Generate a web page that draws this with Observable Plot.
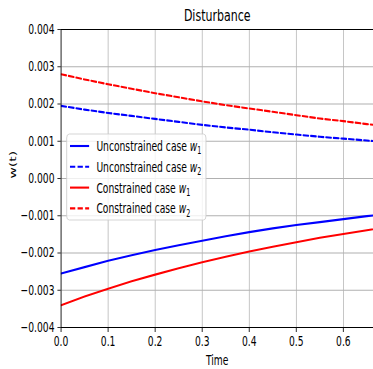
<!DOCTYPE html>
<html>
<head>
<meta charset="utf-8">
<script src="https://cdn.jsdelivr.net/npm/d3@7"></script>
<script src="https://cdn.jsdelivr.net/npm/@observablehq/plot@0.6"></script>
<style>
  html, body { margin: 0; padding: 0; background: #fff; }
</style>
</head>
<body>
<div id="chart"></div>
<script>
const time = [0, 0.05, 0.1, 0.15, 0.2, 0.25, 0.3, 0.35, 0.4, 0.45, 0.5, 0.55, 0.6, 0.65, 0.7];
const unconstrainedW1 = [-0.00255, -0.00238, -0.00221, -0.00206, -0.00192, -0.00179, -0.00167, -0.00155, -0.00144, -0.00134, -0.00125, -0.00117, -0.00109, -0.00101, -0.00094];
const unconstrainedW2 = [0.00195, 0.00185, 0.00176, 0.00168, 0.00160, 0.00152, 0.00144, 0.00137, 0.00131, 0.00124, 0.00118, 0.00112, 0.00107, 0.00102, 0.00097];
const constrainedW1 = [-0.00340, -0.00317, -0.00296, -0.00276, -0.00258, -0.00241, -0.00225, -0.00210, -0.00196, -0.00183, -0.00171, -0.00159, -0.00149, -0.00139, -0.00129];
const constrainedW2 = [0.00280, 0.00266, 0.00253, 0.00241, 0.00229, 0.00218, 0.00207, 0.00197, 0.00188, 0.00179, 0.00170, 0.00161, 0.00154, 0.00146, 0.00139];
const xTicks = [0, 0.1, 0.2, 0.3, 0.4, 0.5, 0.6];
const yTicks = [-0.004, -0.003, -0.002, -0.001, 0, 0.001, 0.002, 0.003, 0.004];
const legendLabels = ["Unconstrained case ", "Unconstrained case ", "Constrained case ", "Constrained case "];
const legendSubs = ["1", "2", "1", "2"];
const seriesColors = ["#0000ff", "#0000ff", "#ff0000", "#ff0000"];
const seriesDash = ["none", "8,3.5", "none", "8,3.5"];

const seriesValues = [unconstrainedW1, unconstrainedW2, constrainedW1, constrainedW2];
const tables = seriesValues.map(vals => time.map((t, i) => ({t, v: vals[i]})));

// The reference is horizontally squeezed: draw on a wider virtual canvas, then squeeze.
const OUT_W = 373, OUT_H = 369, SQ = 0.66;
const VW = Math.round(OUT_W / SQ);
const font = "'DejaVu Sans', sans-serif";

const chart = Plot.plot({
  width: VW,
  height: OUT_H,
  marginLeft: 92,
  marginRight: 0,
  marginTop: 29,
  marginBottom: 42,
  style: {fontFamily: font, fontSize: "13.9px", color: "#000", background: "#fff"},
  x: {domain: [0, 0.6637]},
  y: {domain: [-0.004, 0.004]},
  marks: [
    Plot.gridX(xTicks, {stroke: "#b0b0b0", strokeOpacity: 1, strokeWidth: 1.1}),
    Plot.gridY(yTicks, {stroke: "#b0b0b0", strokeOpacity: 1, strokeWidth: 1.1}),
    ...tables.map((tab, k) => Plot.line(tab, {
      x: "t", y: "v", stroke: seriesColors[k], strokeWidth: 2.1,
      strokeDasharray: seriesDash[k] === "none" ? undefined : seriesDash[k], clip: true
    })),
    Plot.ruleX([0], {stroke: "#000", strokeWidth: 1.1}),
    Plot.ruleY([-0.004, 0.004], {stroke: "#000", strokeWidth: 1.1}),
    Plot.axisX(xTicks, {tickSize: 5, tickPadding: 4, tickFormat: d3.format(".1f"), label: null, fontSize: 13.9}),
    Plot.axisY(yTicks, {tickSize: 5, tickPadding: 5, tickFormat: d3.format(".3f"), label: null, fontSize: 13.9}),
    Plot.text(["Disturbance"], {frameAnchor: "top", dy: -9, lineAnchor: "bottom", fontSize: 16.7}),
    Plot.text(["Time"], {frameAnchor: "bottom", dy: 33, lineAnchor: "middle", fontSize: 13.9}),
    Plot.text(["w(t)"], {frameAnchor: "left", dx: -73, rotate: -90, fontSize: 13.9})
  ]
});

// Legend (virtual coordinates)
const svg = d3.select(chart);
const lg = svg.append("g").attr("font-family", font).attr("font-size", 13.9).attr("text-anchor", "start");
lg.append("rect").attr("x", 101).attr("y", 134).attr("width", 211).attr("height", 86)
  .attr("rx", 4).style("fill", "#fff").style("fill-opacity", 0.8).style("stroke", "#cccccc").style("stroke-width", 1);
legendLabels.forEach((lab, i) => {
  const cy = 146 + i * 20.8;
  lg.append("path").attr("d", `M106,${cy}H135`)
    .style("stroke", seriesColors[i]).style("stroke-width", 2.1).style("fill", "none")
    .style("stroke-dasharray", seriesDash[i]);
  const t = lg.append("text").attr("x", 146).attr("y", cy).attr("dy", "0.36em").style("fill", "#000");
  t.append("tspan").text(lab);
  t.append("tspan").attr("font-style", "italic").text("w");
  t.append("tspan").attr("font-size", 9.7).attr("dy", "0.35em").text(legendSubs[i]);
});

chart.setAttribute("viewBox", `0 0 ${VW} ${OUT_H}`);
chart.setAttribute("preserveAspectRatio", "none");
chart.setAttribute("width", OUT_W);
chart.setAttribute("height", OUT_H);
chart.style.width = OUT_W + "px";
chart.style.height = OUT_H + "px";
chart.style.maxWidth = "none";

document.getElementById("chart").appendChild(chart);
</script>
</body>
</html>
